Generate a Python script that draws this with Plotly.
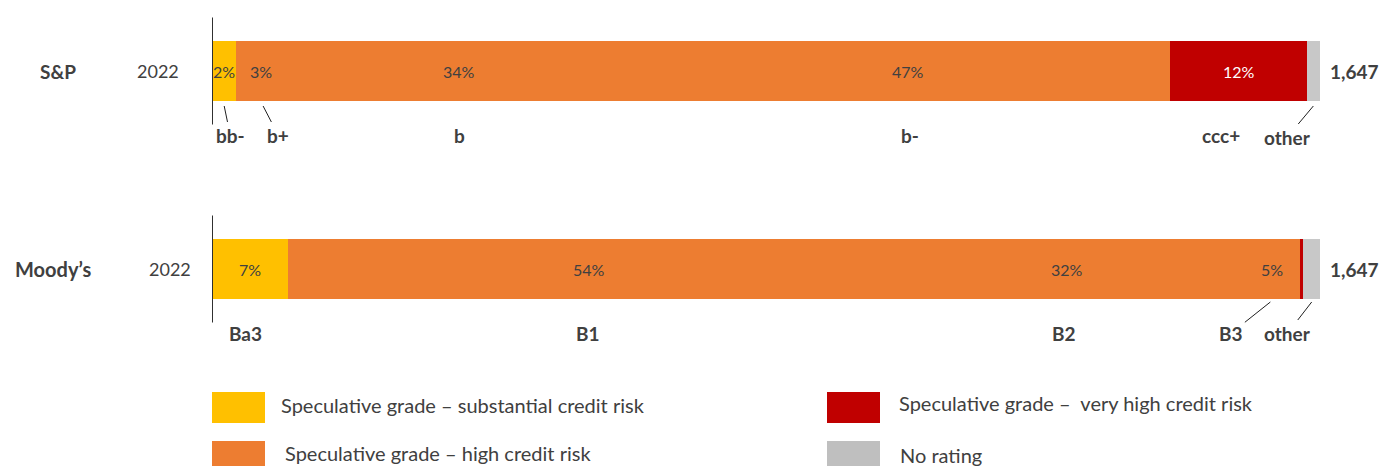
import plotly.graph_objects as go
import numpy as np

# ---------------- data ----------------
agencies = ["S&P", "Moody\u2019s"]
years = ["2022", "2022"]
totals = ["1,647", "1,647"]

sp_ratings = ["bb-", "b+", "b", "b-", "ccc+", "other"]
sp_values = [2.2, 3.2, 33.8, 47.3, 12.3, 1.2]
sp_pct_labels = ["2%", "3%", "34%", "47%", "12%", ""]
sp_groups = ["substantial", "high", "high", "high", "very high", "none"]

moody_ratings = ["Ba3", "B1", "B2", "B3", "", "other"]
moody_values = [6.9, 54.3, 32.0, 5.0, 0.3, 1.5]
moody_pct_labels = ["7%", "54%", "32%", "5%", "", ""]
moody_groups = ["substantial", "high", "high", "high", "very high", "none"]

legend_groups = ["substantial", "high", "very high", "none"]
legend_labels = [
    "Speculative grade \u2013 substantial credit risk",
    "Speculative grade \u2013 high credit risk",
    "Speculative grade \u2013  very high credit risk",
    "No rating",
]

# ---------------- styles ----------------
W, H = 1380, 466
FONT = "Lato"
TXT = "#404040"
colors = {"substantial": "#FFC000", "high": "#ED7D31", "very high": "#C00000", "none": "#C8C8C8"}
pct_font_color = {"substantial": TXT, "high": TXT, "very high": "white", "none": TXT}

row_pitch = 198.0        # px between row centers
row0_px = 71.0           # px of first row center
bar_px = 60.0
bar_w = bar_px / row_pitch
x_left_px, x_right_px = 212, 1320
BOLD_SIZE = 19

rows = [
    (sp_values, sp_pct_labels, sp_groups, sp_ratings),
    (moody_values, moody_pct_labels, moody_groups, moody_ratings),
]

# pct label x-shift (px)
pct_shift = {(0, 1): 7}
# rating label styles: key -> dict(xshift, arrow=(ax, ay) or None)
rating_style = {
    (0, 0): dict(xshift=0, arrow=(6, 29)),
    (0, 1): dict(xshift=9, arrow=(15, 29)),
    (0, 2): dict(xshift=0, arrow=None),
    (0, 3): dict(xshift=2, arrow=None),
    (0, 4): dict(xshift=-18, arrow=None),
    (0, 5): dict(xshift=0, arrow=(-26, 31)),
    (1, 0): dict(xshift=-5, arrow=None),
    (1, 1): dict(xshift=-1, arrow=None),
    (1, 2): dict(xshift=-3, arrow=None),
    (1, 3): dict(xshift=-2, arrow=(-39, 31)),
    (1, 5): dict(xshift=0, arrow=(-24, 31)),
}
arrow_point_shift = [-35, -33]
name_x_px = [58, 53]
name_size = [19, 20]
year_x_px = [158, 170]
total_x_px = 1328

legend_rects_px = [(212, 392, 265, 423), (212, 441, 265, 472), (827, 392, 880, 423), (827, 441, 880, 472)]
legend_text_px = [(279, 405), (283, 453), (897, 403), (898, 455)]

# ---------------- figure ----------------
fig = go.Figure()
n_seg = len(sp_values)
for i in range(n_seg):
    fig.add_trace(go.Bar(
        orientation="h",
        y=[0, 1],
        x=[sp_values[i], moody_values[i]],
        width=bar_w,
        marker=dict(color=[colors[sp_groups[i]], colors[moody_groups[i]]], line=dict(width=0)),
        hoverinfo="skip",
        showlegend=False,
    ))

ann = []
shapes = []
for r, (vals, pcts, groups, ratings) in enumerate(rows):
    vals = np.array(vals)
    cum = np.cumsum(vals)
    centers = cum - vals / 2
    for i, (c, p, g) in enumerate(zip(centers, pcts, groups)):
        if p:
            ann.append(dict(x=c, y=r, xref="x", yref="y", text=p, showarrow=False,
                            xshift=pct_shift.get((r, i), 0),
                            font=dict(family=FONT, size=16, color=pct_font_color[g])))
    for i, (c, lab) in enumerate(zip(centers, ratings)):
        if not lab:
            continue
        st = rating_style.get((r, i), dict(xshift=0, arrow=None))
        if st["arrow"] is None:
            ann.append(dict(x=c, y=r, xref="x", yref="y", text="<b>%s</b>" % lab, showarrow=False,
                            xshift=st["xshift"], yshift=-(bar_px / 2 + 34),
                            font=dict(family=FONT, size=BOLD_SIZE, color=TXT)))
        else:
            ax, ay = st["arrow"]
            ann.append(dict(x=c, y=r, xref="x", yref="y", text="<b>%s</b>" % lab, showarrow=True,
                            arrowhead=0, arrowwidth=1, arrowcolor="#202020",
                            ax=ax, ay=ay, xshift=st["xshift"], yshift=arrow_point_shift[r],
                            font=dict(family=FONT, size=BOLD_SIZE, color=TXT)))
    # left labels
    ann.append(dict(x=name_x_px[r] / W, y=r, xref="paper", yref="y", text="<b>%s</b>" % agencies[r],
                    showarrow=False, xanchor="center", font=dict(family=FONT, size=name_size[r], color=TXT)))
    ann.append(dict(x=year_x_px[r] / W, y=r, xref="paper", yref="y", text=years[r],
                    showarrow=False, xanchor="center", font=dict(family=FONT, size=18, color=TXT)))
    ann.append(dict(x=total_x_px / W, y=r, xref="paper", yref="y", text="<b>%s</b>" % totals[r],
                    showarrow=False, xanchor="left", font=dict(family=FONT, size=BOLD_SIZE, color=TXT)))
    # axis line
    shapes.append(dict(type="line", xref="x", yref="y", x0=0, x1=0, y0=r - 0.27, y1=r + 0.27,
                       line=dict(color="#303030", width=2)))

# legend
for g, lab, (x0, y0, x1, y1), (tx, ty) in zip(legend_groups, legend_labels, legend_rects_px, legend_text_px):
    shapes.append(dict(type="rect", xref="paper", yref="paper", x0=x0 / W, x1=x1 / W,
                       y0=1 - y0 / H, y1=1 - y1 / H, fillcolor=colors[g] if g != "none" else "#BFBFBF",
                       line=dict(width=0)))
    ann.append(dict(x=tx / W, y=1 - ty / H, xref="paper", yref="paper", text=lab, showarrow=False,
                    xanchor="left", yanchor="middle", font=dict(family=FONT, size=20, color=TXT)))

total_span = max(sum(sp_values), sum(moody_values))
y_top = -row0_px / row_pitch
y_bot = (H - row0_px) / row_pitch

fig.update_layout(
    width=W, height=H,
    margin=dict(l=0, r=0, t=0, b=0),
    paper_bgcolor="white", plot_bgcolor="white",
    barmode="stack", bargap=0,
    xaxis=dict(domain=[x_left_px / W, x_right_px / W], range=[0, total_span], visible=False, fixedrange=True),
    yaxis=dict(domain=[0, 1], range=[y_bot, y_top], visible=False, fixedrange=True),
    annotations=ann, shapes=shapes,
    showlegend=False,
)

fig.write_html("out.html")
